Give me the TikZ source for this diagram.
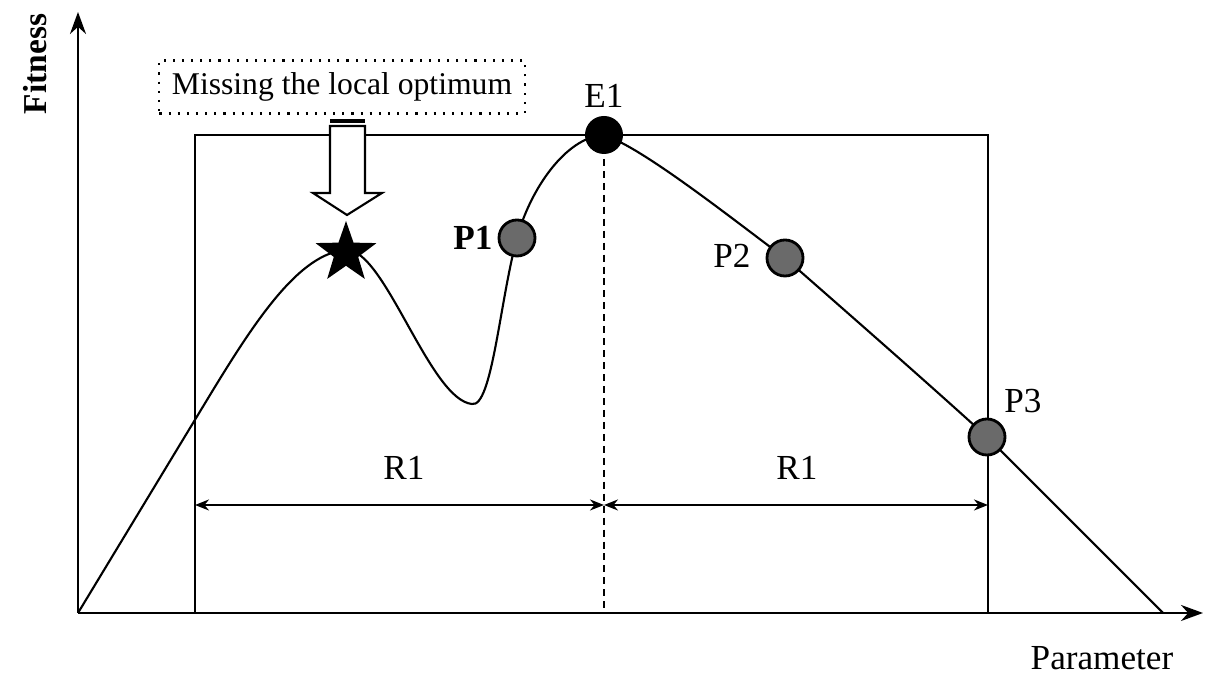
\documentclass[tikz,border=0pt]{standalone}
\usepackage{fontspec}
\setmainfont{Liberation Serif}
\usetikzlibrary{arrows.meta, positioning, shapes.geometric}
\definecolor{cgrey}{HTML}{6A6A6A}
\tikzset{
  every picture/.style={line width=0.6pt},
  axis/.style={-{Stealth[length=2.2mm, width=1.6mm]}, line width=0.7pt},
  dim/.style={{Stealth[length=1.4mm, width=1.1mm]}-{Stealth[length=1.4mm, width=1.1mm]}, line width=0.6pt},
  sample/.style={circle, draw=black, fill=cgrey, minimum size=3.6mm, inner sep=0pt, line width=0.8pt},
  best/.style={circle, fill=black, minimum size=3.8mm, inner sep=0pt},
  lbl/.style={font=\fontsize{10}{12}\selectfont, inner sep=1pt},
  note/.style={draw, dotted, font=\fontsize{9}{11}\selectfont, minimum width=3.65cm, minimum height=0.53cm, inner sep=2pt},
}
\begin{document}
\begin{tikzpicture}[x=0.01cm, y=-0.01cm]
  \useasboundingbox (0,0) rectangle (1205,674);

  % axes
  \coordinate (o) at (78,613);
  \coordinate (ytip) at (78,12);
  \coordinate (xtip) at (1203,613);
  \draw[axis] (o) -- (ytip);
  \draw[axis] (o) -- (xtip);
  \node[lbl, rotate=90, font=\fontsize{9.5}{12}\selectfont\bfseries] (fit) at (35,64) {Fitness};
  \node[lbl] (par) at (1102,658) {Parameter};

  % search window
  \draw (195,613) -- (195,135) -- (988,135) -- (988,613);

  % fitness curve
  \draw (o) -- (210,395) .. controls (255,321) and (300,252) .. (347,250)
    .. controls (385,250) and (430,400) .. (472,404)
    .. controls (492,408) and (500,300) .. (517,238)
    .. controls (530,190) and (565,138) .. (603,135)
    .. controls (640,145) and (740,225) .. (785,258)
    .. controls (850,315) and (930,385) .. (987,437)
    -- (1163,613);

  % best point and samples
  \coordinate (e1base) at (604,613);
  \draw[dash pattern=on 2pt off 1.4pt, line width=0.8pt] (604,135) -- (e1base);
  \node[best] (e1) at (604,135) {};
  \node[lbl] (e1l) at (604,96) {E1};
  \node[sample] (p1) at (517,238) {};
  \node[sample] (p2) at (785,258) {};
  \node[sample] (p3) at (987,437) {};
  \node[lbl, font=\fontsize{10}{12}\selectfont\bfseries] (p1l) at (473,238) {P1};
  \node[lbl] (p2l) at (732,256) {P2};
  \node[lbl] (p3l) at (1023,401) {P3};

  % missed optimum
  \node[star, star points=5, star point ratio=2.5, fill=black, minimum size=6.4mm, inner sep=0pt] (opt) at (346,253) {};
  \node[note] (miss) at (342,87) {Missing the local optimum};
  \draw[fill=white] (330,126) -- (330,193) -- (313,193) -- (347,215) -- (382,193) -- (365,193) -- (365,126) -- cycle;
  \draw[line width=1.2pt] (330,121) -- (365,121);

  % ranges
  \coordinate (rl) at (195,505);
  \coordinate (rm) at (604,505);
  \coordinate (rr) at (988,505);
  \draw[dim] (rl) -- (rm);
  \draw[dim] (rm) -- (rr);
  \node[lbl] (r1a) at (404,468) {R1};
  \node[lbl] (r1b) at (797,468) {R1};
\end{tikzpicture}
\end{document}
